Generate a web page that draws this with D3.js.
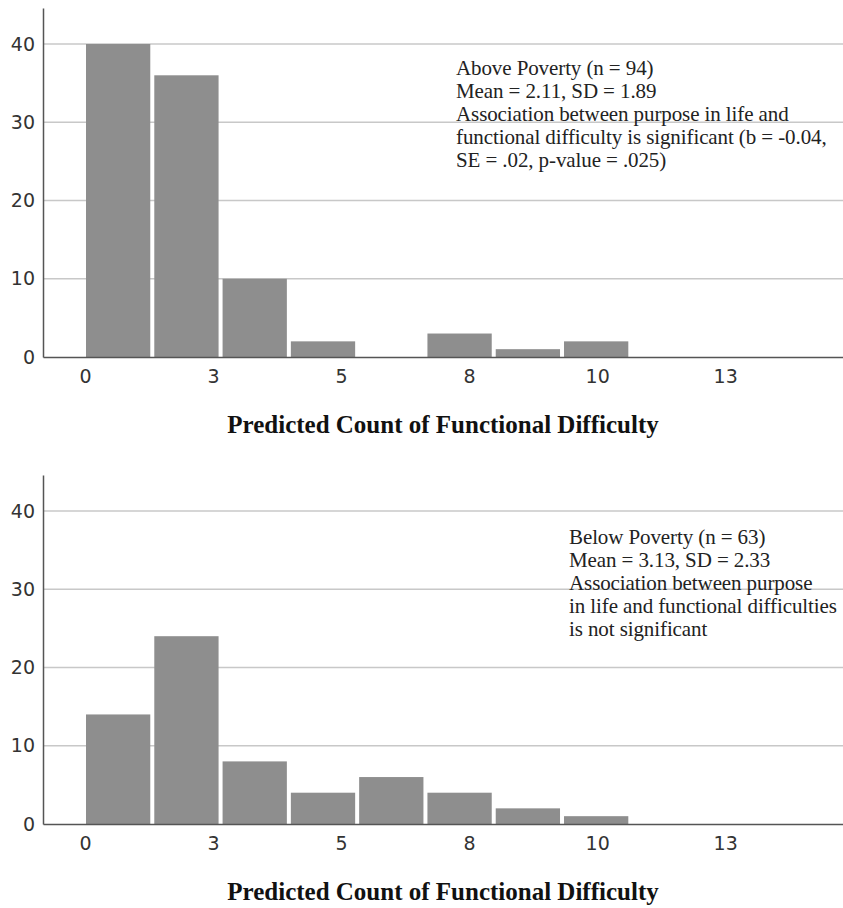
<!DOCTYPE html>
<html>
<head>
<meta charset="utf-8">
<script src="https://cdn.jsdelivr.net/npm/d3@7"></script>
<style>
  body { margin: 0; background: #fff; }
  svg { display: block; }
</style>
</head>
<body>
<div id="vcr"></div>
<script>
// histogram bins (predicted count), same for both panels
var binStart = [0, 4/3, 8/3, 4, 16/3, 20/3, 8, 28/3];
var binWidth = 4/3;

var aboveCounts = [40, 36, 10, 2, 0, 3, 1, 2];
var belowCounts = [14, 24, 8, 4, 6, 4, 2, 1];

var xTickValues = [0, 2.5, 5, 7.5, 10, 12.5];
var xTickLabels = ["0", "3", "5", "8", "10", "13"];
var yTickValues = [0, 10, 20, 30, 40];

var aboveNote = [
  "Above Poverty (n = 94)",
  "Mean = 2.11, SD = 1.89",
  "Association between purpose in life and",
  "functional difficulty is significant (b = -0.04,",
  "SE = .02, p-value = .025)"
];
var belowNote = [
  "Below Poverty (n = 63)",
  "Mean = 3.13, SD = 2.33",
  "Association between purpose",
  "in life and functional difficulties",
  "is not significant"
];
var xTitle = "Predicted Count of Functional Difficulty";

var width = 843, height = 908;
var svg = d3.select("#vcr").append("svg")
    .attr("width", width)
    .attr("height", height);

var left = 43, right = 843;
var x = d3.scaleLinear().domain([-0.82, 14.8]).range([left, right]);

function drawPanel(top, bottom, counts, note, noteX, noteY) {
  var g = svg.append("g");
  var y = d3.scaleLinear().domain([0, 44.6]).range([bottom, top]);

  // gridlines
  g.selectAll(".grid")
    .data(yTickValues.filter(function(d) { return d > 0; }))
    .enter().append("line")
    .attr("x1", left).attr("x2", right)
    .attr("y1", function(d) { return y(d); })
    .attr("y2", function(d) { return y(d); })
    .attr("stroke", "#c8c8c8")
    .attr("stroke-width", 1.5);

  // bars
  g.selectAll(".bar")
    .data(counts.map(function(c, i) { return {start: binStart[i], count: c}; }))
    .enter().append("rect")
    .attr("x", function(d) { return x(d.start) + 1; })
    .attr("width", function(d) { return x(d.start + binWidth) - x(d.start) - 4; })
    .attr("y", function(d) { return y(d.count); })
    .attr("height", function(d) { return y(0) - y(d.count); })
    .attr("fill", "#8e8e8e");

  // y axis
  var yAxis = g.append("g")
    .attr("transform", "translate(" + left + ",0)")
    .call(d3.axisLeft(y).tickValues(yTickValues).tickSize(0).tickPadding(8));
  yAxis.select(".domain").attr("stroke", "#555").attr("stroke-width", 1.5);
  yAxis.selectAll("text")
    .attr("font-family", "DejaVu Sans, sans-serif")
    .attr("font-size", 19)
    .attr("fill", "#333");

  // x axis
  var xAxis = g.append("g")
    .attr("transform", "translate(0," + bottom + ")")
    .call(d3.axisBottom(x).tickValues(xTickValues)
      .tickFormat(function(d, i) { return xTickLabels[i]; })
      .tickSize(0).tickPadding(13));
  xAxis.select(".domain").attr("stroke", "#555").attr("stroke-width", 1.5);
  xAxis.selectAll("text")
    .attr("font-family", "DejaVu Sans, sans-serif")
    .attr("font-size", 19)
    .attr("fill", "#333");

  // axis title
  g.append("text")
    .attr("x", (left + right) / 2)
    .attr("y", bottom + 76)
    .attr("text-anchor", "middle")
    .attr("font-family", "Liberation Serif, serif")
    .attr("font-weight", "bold")
    .attr("font-size", 25)
    .attr("fill", "#111")
    .text(xTitle);

  // annotation
  g.append("text")
    .attr("font-family", "Liberation Serif, serif")
    .attr("font-size", 21)
    .attr("letter-spacing", -0.1)
    .attr("fill", "#222")
    .selectAll("tspan")
    .data(note)
    .enter().append("tspan")
    .attr("x", noteX)
    .attr("y", function(d, i) { return noteY + i * 23; })
    .text(function(d) { return d; });
}

drawPanel(8, 357, aboveCounts, aboveNote, 456, 75);
drawPanel(475, 824, belowCounts, belowNote, 569, 544);
</script>
</body>
</html>
